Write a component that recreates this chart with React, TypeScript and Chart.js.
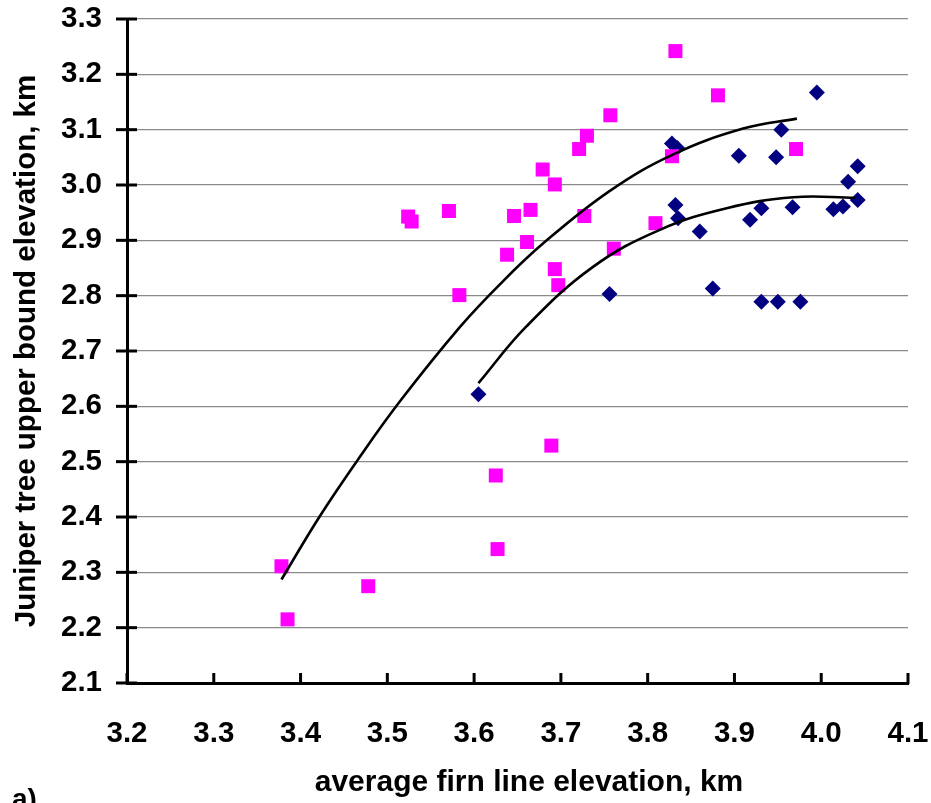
import React, { useEffect, useRef } from "react";
import { Chart, registerables } from "chart.js";

Chart.register(...registerables);

// ---- data ----
const blueX = [3.995, 3.954, 3.828, 3.834, 3.905, 3.948, 4.042, 4.031, 4.042, 4.025, 4.014, 3.967, 3.931, 3.918, 3.832, 3.835, 3.86, 3.875, 3.756, 3.931, 3.95, 3.976, 3.605];
const blueY = [3.167, 3.1, 3.075, 3.067, 3.053, 3.05, 3.034, 3.006, 2.973, 2.961, 2.956, 2.96, 2.958, 2.937, 2.964, 2.94, 2.916, 2.813, 2.803, 2.789, 2.789, 2.789, 2.622];

const magentaX = [3.524, 3.528, 3.571, 3.583, 3.832, 3.881, 3.757, 3.73, 3.721, 3.679, 3.693, 3.646, 3.665, 3.727, 3.828, 3.971, 3.809, 3.661, 3.638, 3.761, 3.693, 3.697, 3.689, 3.625, 3.627, 3.378, 3.385, 3.478];
const magentaY = [2.943, 2.934, 2.953, 2.801, 3.242, 3.162, 3.126, 3.089, 3.065, 3.028, 3.001, 2.944, 2.955, 2.944, 3.052, 3.065, 2.931, 2.897, 2.874, 2.885, 2.848, 2.819, 2.529, 2.475, 2.342, 2.311, 2.215, 2.275];

const upperCurveX = [3.378, 3.422, 3.468, 3.515, 3.584, 3.63, 3.68, 3.756, 3.829, 3.91, 3.972];
const upperCurveY = [2.287, 2.401, 2.508, 2.61, 2.744, 2.821, 2.895, 2.989, 3.055, 3.102, 3.12];

const lowerCurveX = [3.605, 3.66, 3.737, 3.814, 3.891, 3.968, 4.039];
const lowerCurveY = [2.642, 2.744, 2.852, 2.919, 2.958, 2.978, 2.977];

const xTickValues = [3.2, 3.3, 3.4, 3.5, 3.6, 3.7, 3.8, 3.9, 4.0, 4.1];
const yTickValues = [2.1, 2.2, 2.3, 2.4, 2.5, 2.6, 2.7, 2.8, 2.9, 3.0, 3.1, 3.2, 3.3];

const xTitle = "average firn line elevation, km";
const yTitle = "Juniper tree upper bound elevation, km";
const panelLabel = "a)";

const FONT = "'Liberation Sans', Arial, sans-serif";

const zip = (xs: number[], ys: number[]) => xs.map((x, i) => ({ x, y: ys[i] }));

const decorPlugin = {
  id: "decor",
  afterDraw(chart: any) {
    const { ctx, scales, chartArea } = chart;
    const xs = scales.x;
    const ys = scales.y;
    ctx.save();
    ctx.strokeStyle = "#000";
    ctx.lineWidth = 3;
    ctx.lineCap = "butt";
    xTickValues.forEach((v) => {
      const px = xs.getPixelForValue(v);
      ctx.beginPath();
      ctx.moveTo(px, chartArea.bottom + 1);
      ctx.lineTo(px, chartArea.bottom - 10);
      ctx.stroke();
    });
    yTickValues.forEach((v) => {
      const py = ys.getPixelForValue(v);
      ctx.beginPath();
      ctx.moveTo(chartArea.left - 11, py);
      ctx.lineTo(chartArea.left + 10, py);
      ctx.stroke();
    });
    ctx.fillStyle = "#000";
    ctx.font = `bold 30px ${FONT}`;
    ctx.textAlign = "center";
    ctx.textBaseline = "middle";
    ctx.fillText(xTitle, 529, 783);
    ctx.textAlign = "left";
    ctx.textBaseline = "alphabetic";
    ctx.font = `bold 28px ${FONT}`;
    ctx.fillText(panelLabel, 12, 808);
    ctx.restore();
  },
};

export default function App() {
  const canvasRef = useRef<HTMLCanvasElement | null>(null);

  useEffect(() => {
    const canvas = canvasRef.current;
    if (!canvas) return;
    const chart = new Chart(canvas, {
      type: "scatter",
      data: {
        datasets: [
          {
            label: "trend upper",
            data: zip(upperCurveX, upperCurveY),
            showLine: true,
            borderColor: "#000",
            borderWidth: 2.6,
            pointRadius: 0,
            tension: 0.4,
            fill: false,
            order: 0,
          },
          {
            label: "trend lower",
            data: zip(lowerCurveX, lowerCurveY),
            showLine: true,
            borderColor: "#000",
            borderWidth: 2.6,
            pointRadius: 0,
            tension: 0.4,
            fill: false,
            order: 0,
          },
          {
            label: "magenta",
            data: zip(magentaX, magentaY),
            pointStyle: "rect",
            pointRadius: 9.9,
            pointBackgroundColor: "#FF00FF",
            pointBorderWidth: 0,
            borderColor: "#FF00FF",
            showLine: false,
            order: 1,
          },
          {
            label: "blue",
            data: zip(blueX, blueY),
            pointStyle: "rectRot",
            pointRadius: 8,
            pointBackgroundColor: "#000080",
            pointBorderWidth: 0,
            borderColor: "#000080",
            showLine: false,
            order: 2,
          },
        ],
      },
      options: {
        responsive: false,
        animation: false,
        layout: { padding: { top: 19, right: 23, left: 0, bottom: 0 } },
        plugins: {
          legend: { display: false },
          tooltip: { enabled: false },
        },
        scales: {
          x: {
            type: "linear",
            min: 3.2,
            max: 4.1,
            afterFit: (s: any) => {
              s.height = 120;
              s.paddingLeft = 0;
              s.paddingRight = 0;
            },
            afterBuildTicks: (s: any) => {
              s.ticks = xTickValues.map((v) => ({ value: v }));
            },
            ticks: {
              padding: 33,
              color: "#000",
              font: { family: FONT, size: 29.5, weight: "bold" },
              callback: (v: any) => Number(v).toFixed(1),
              maxRotation: 0,
              autoSkip: false,
            },
            grid: { display: false, drawTicks: false },
            border: { display: true, color: "#000", width: 3 },
          },
          y: {
            type: "linear",
            min: 2.1,
            max: 3.3,
            afterFit: (s: any) => {
              s.width = 127;
              s.paddingTop = 0;
              s.paddingBottom = 0;
            },
            afterBuildTicks: (s: any) => {
              s.ticks = yTickValues.map((v) => ({ value: v }));
            },
            ticks: {
              padding: 25,
              color: "#000",
              font: { family: FONT, size: 29.5, weight: "bold" },
              callback: (v: any) => Number(v).toFixed(1),
              autoSkip: false,
            },
            grid: { display: true, color: "#8a8a8a", lineWidth: 1.2, drawTicks: false },
            border: { display: true, color: "#000", width: 3 },
            title: {
              display: true,
              text: yTitle,
              color: "#000",
              font: { family: FONT, size: 29.5, weight: "bold" },
              padding: { top: 9, bottom: 0 },
            },
          },
        },
      },
      plugins: [decorPlugin],
    } as any);
    return () => chart.destroy();
  }, []);

  return (
    <div style={{ position: "absolute", left: 0, top: 0, width: 931, height: 803, overflow: "hidden", background: "#fff" }}>
      <canvas ref={canvasRef} width={931} height={803} style={{ display: "block" }} />
    </div>
  );
}
